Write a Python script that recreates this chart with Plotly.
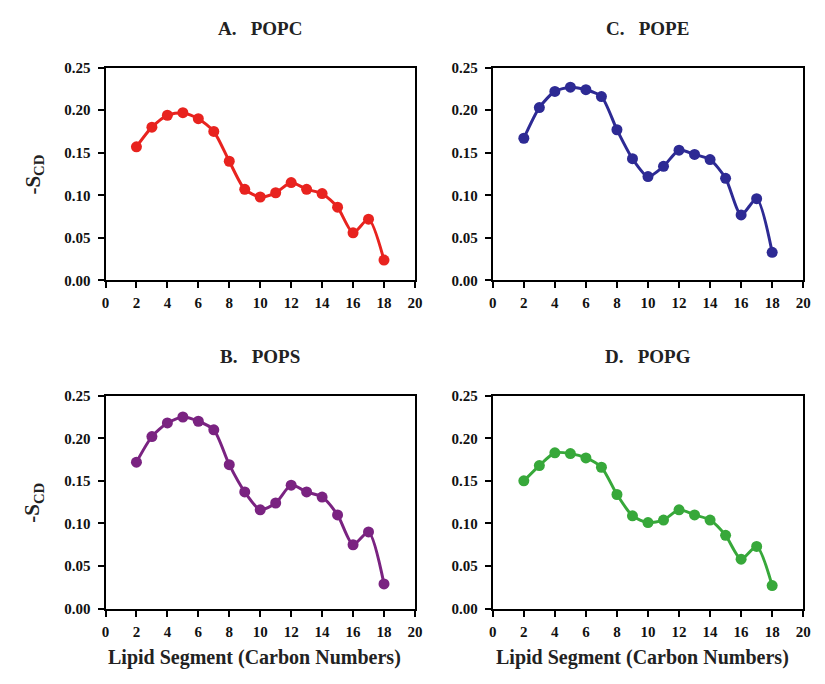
import plotly.graph_objects as go

carbons = list(range(2, 19))
popc = [0.157, 0.180, 0.194, 0.197, 0.190, 0.175, 0.140, 0.107, 0.098, 0.103, 0.115, 0.107, 0.102, 0.086, 0.056, 0.072, 0.024]
pope = [0.167, 0.203, 0.222, 0.227, 0.224, 0.216, 0.177, 0.143, 0.122, 0.134, 0.153, 0.148, 0.142, 0.120, 0.077, 0.096, 0.033]
pops = [0.172, 0.202, 0.218, 0.225, 0.220, 0.210, 0.169, 0.137, 0.116, 0.124, 0.145, 0.137, 0.131, 0.110, 0.075, 0.090, 0.029]
popg = [0.150, 0.168, 0.183, 0.182, 0.177, 0.166, 0.134, 0.109, 0.101, 0.104, 0.116, 0.110, 0.104, 0.086, 0.058, 0.073, 0.027]

titles = ["A.\u00a0\u00a0\u00a0POPC", "C.\u00a0\u00a0\u00a0POPE", "B.\u00a0\u00a0\u00a0POPS", "D.\u00a0\u00a0\u00a0POPG"]
series = [popc, pope, pops, popg]
colors = ["#e8231f", "#2d2a94", "#7a2381", "#37a83a"]
x_ticks = list(range(0, 21, 2))
y_ticks = [0, 0.05, 0.10, 0.15, 0.20, 0.25]
x_title = "Lipid Segment (Carbon Numbers)"

W, H = 825, 684
FONT = "Liberation Serif, Times New Roman, serif"

# pixel boxes: (left, right, top, bottom)
boxes = [(103, 417, 61, 279), (496, 811, 61, 279), (103, 417, 397, 615), (496, 811, 397, 615)]

fig = go.Figure()
layout = dict(width=W, height=H, margin=dict(l=0, r=0, t=0, b=0),
              paper_bgcolor="white", plot_bgcolor="white", showlegend=False,
              font=dict(family=FONT, color="black"))

annotations = []
for i, ((l, r, t, b), vals, col, title) in enumerate(zip(boxes, series, colors, titles)):
    n = i + 1
    xa = "x" if n == 1 else f"x{n}"
    ya = "y" if n == 1 else f"y{n}"
    fig.add_trace(go.Scatter(x=carbons, y=vals, mode="lines+markers", xaxis=xa, yaxis=ya,
                             line=dict(color=col, width=3, shape="spline", smoothing=0.7),
                             marker=dict(color=col, size=11)))
    axstyle = dict(showline=True, linecolor="black", linewidth=2, mirror=True,
                   ticks="outside", ticklen=6, tickwidth=2, tickcolor="black",
                   showgrid=False, zeroline=False,
                   tickfont=dict(family=FONT, size=15, color="#111", weight="bold"))
    layout["xaxis" if n == 1 else f"xaxis{n}"] = dict(
        domain=[l / W, r / W], anchor=ya, range=[0, 20], tickmode="array",
        tickvals=x_ticks, ticktext=[str(v) for v in x_ticks], ticklabelstandoff=2, **axstyle)
    layout["yaxis" if n == 1 else f"yaxis{n}"] = dict(
        domain=[1 - b / H, 1 - t / H], anchor=xa, range=[0, 0.25], tickmode="array",
        tickvals=y_ticks, ticktext=[f"{v:.2f}" for v in y_ticks], ticklabelstandoff=4, **axstyle)
    annotations.append(dict(text=f"<b>{title}</b>", x=(l + r) / 2 / W, y=1 - (t - 40) / H,
                            xref="paper", yref="paper", showarrow=False, xanchor="center", yanchor="middle",
                            font=dict(family=FONT, size=19, color="#222")))
    if n in (1, 3):
        annotations.append(dict(text="<b>-S<sub>CD</sub></b>", x=30 / W, y=1 - (t + 110) / H,
                                xref="paper", yref="paper", showarrow=False, textangle=-90,
                                xanchor="center", yanchor="middle",
                                font=dict(family=FONT, size=21, color="#222")))
    if n in (3, 4):
        annotations.append(dict(text=f"<b>{x_title}</b>", x=((l + r) / 2 - 6) / W,
                                y=1 - 665 / H, xref="paper", yref="paper", showarrow=False,
                                xanchor="center", yanchor="middle",
                                font=dict(family=FONT, size=20, color="#222")))

layout["annotations"] = annotations
fig.update_layout(**layout)
fig.write_html("out.html")
